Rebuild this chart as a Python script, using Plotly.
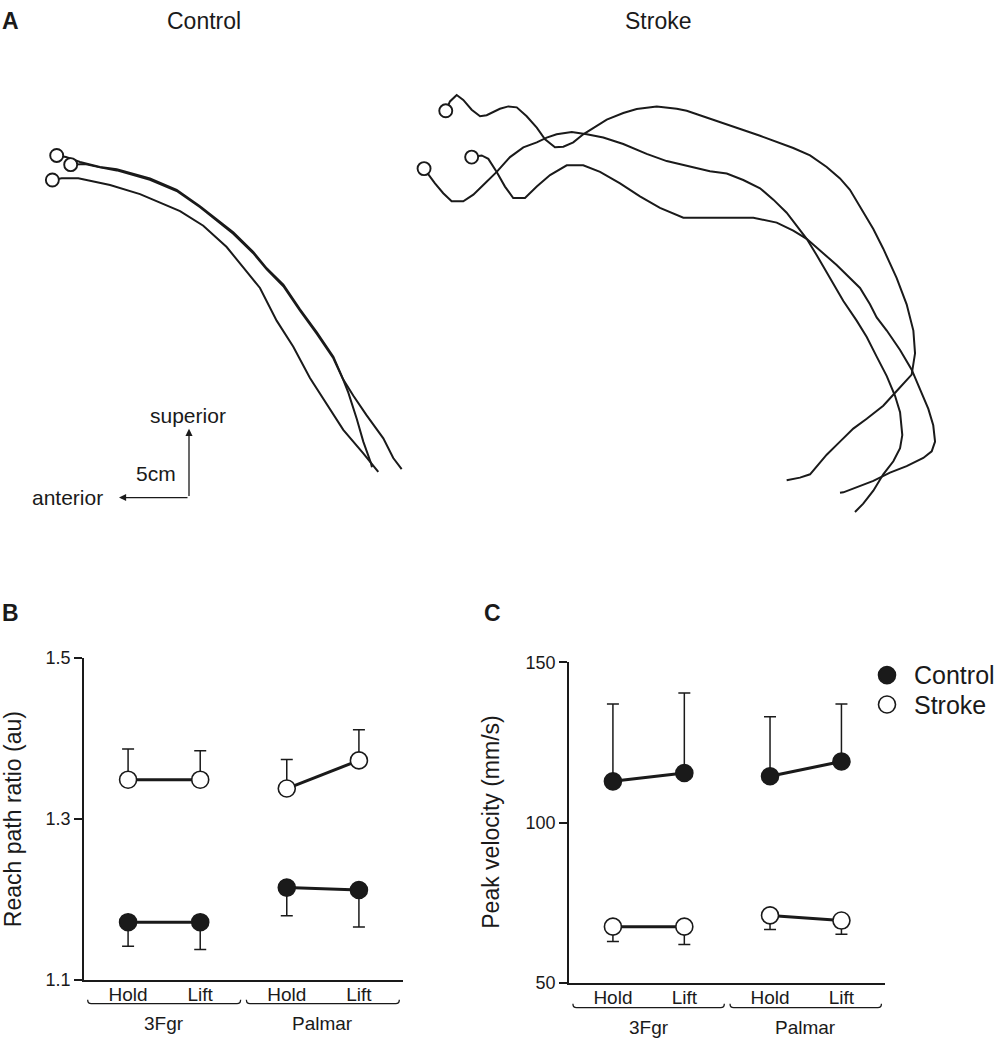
import plotly.graph_objects as go

# ---------------- Panel A data: hand trajectories (cm) ----------------
# origin = corner of the scale bar; x to the right, y = superior
ctrl1_x = [-9.45, -8.79, -8.14, -7.79, -6.36, -5.16, -2.79, -0.88, 0.79, 1.98, 3.16, 4.59, 5.55, 6.74,
           7.93, 9.12, 10.31, 11.02, 11.74, 12.69, 13.88, 14.59, 15.19]
ctrl1_y = [24.91, 24.79, 24.57, 24.43, 24.07, 23.91, 23.24, 22.41, 21.21, 20.26, 19.31, 17.88, 16.69, 15.50,
           13.71, 12.05, 10.26, 8.59, 7.41, 5.98, 4.31, 2.88, 2.07]
ctrl2_x = [-8.45, -7.93, -7.43, -6.36, -5.16, -2.79, -0.88, 0.79, 1.98, 3.16, 4.59, 5.55, 6.74, 7.93,
           9.12, 10.31, 11.02, 11.38, 11.98, 12.45, 13.00, 13.07]
ctrl2_y = [24.24, 24.29, 24.29, 24.04, 23.82, 23.14, 22.32, 21.14, 20.18, 19.21, 17.79, 16.61, 15.39, 13.61,
           11.93, 10.14, 8.57, 7.64, 5.74, 4.07, 2.50, 2.21]
ctrl3_x = [-9.76, -9.09, -7.91, -7.31, -5.64, -3.50, -2.07, -0.64, 1.02, 2.69, 4.12, 5.07, 6.26, 7.45,
           8.64, 9.84, 11.02, 12.45, 13.52]
ctrl3_y = [23.12, 23.24, 23.24, 23.12, 22.76, 22.09, 21.45, 20.86, 19.79, 18.24, 16.45, 15.26, 12.88, 10.98,
           8.71, 6.79, 4.93, 3.21, 1.86]

strk1_x = [18.34, 18.64, 19.12, 19.59, 20.19, 20.79, 21.26, 22.21, 22.81, 23.41, 24.12, 24.84, 25.43, 26.14,
           26.74, 27.45, 28.16, 28.88, 29.84, 31.02, 31.98, 33.41, 34.84, 35.55, 38.41, 40.79, 43.16, 44.36,
           45.55, 46.50, 47.21, 47.93, 48.88, 49.59, 50.55, 51.26, 51.74, 51.86, 51.62, 50.55, 49.59, 48.41,
           47.45, 46.50, 45.55, 44.36, 43.64, 42.69]
strk1_y = [28.16, 28.84, 29.31, 28.95, 28.24, 27.76, 27.84, 28.31, 28.48, 28.41, 27.76, 26.93, 26.09, 25.50,
           25.55, 25.86, 26.45, 26.93, 27.52, 28.00, 28.29, 28.48, 28.31, 28.16, 27.16, 26.34, 25.45, 24.91,
           24.07, 23.24, 22.41, 21.21, 19.55, 18.12, 15.98, 14.07, 12.16, 10.50, 8.95, 7.76, 6.69, 5.74,
           5.02, 4.07, 3.12, 1.69, 1.45, 1.26]
strk2_x = [20.19, 20.91, 21.38, 21.98, 22.57, 23.16, 24.00, 24.84, 25.79, 26.98, 28.16, 29.36, 30.79, 32.21,
           33.64, 35.31, 40.31, 41.98, 43.16, 44.12, 46.26, 47.93, 48.64, 49.12, 49.84, 50.79, 51.62, 52.21,
           52.81, 53.16, 53.29, 53.05, 52.45, 51.26, 50.07, 48.88, 47.69, 46.74, 46.50]
strk2_y = [24.79, 24.91, 24.66, 23.71, 22.64, 21.81, 21.81, 22.64, 23.48, 24.19, 24.19, 23.71, 22.88, 21.93,
           21.09, 20.38, 20.38, 20.02, 19.43, 18.84, 16.93, 15.26, 14.07, 13.12, 12.16, 10.74, 9.31, 7.88,
           6.45, 5.26, 4.07, 3.36, 2.88, 2.29, 1.81, 1.21, 0.74, 0.38, 0.34]
strk3_x = [16.79, 17.21, 17.57, 18.16, 18.76, 19.59, 20.31, 21.02, 21.98, 22.93, 23.88, 24.84, 25.55, 26.26,
           27.34, 28.41, 29.59, 31.02, 32.69, 34.12, 36.02, 37.21, 38.41, 39.59, 40.79, 41.74, 42.69, 43.41,
           44.12, 44.84, 45.79, 46.74, 47.69, 48.41, 49.12, 49.84, 50.43, 50.79, 50.95, 50.79, 50.31, 49.59,
           48.88, 48.16, 47.57]
strk3_y = [23.95, 23.36, 22.88, 22.16, 21.57, 21.57, 22.05, 22.76, 23.71, 24.79, 25.50, 25.86, 26.21, 26.45,
           26.62, 26.45, 26.21, 25.74, 25.02, 24.50, 24.07, 23.76, 23.59, 23.12, 22.52, 21.69, 20.74, 19.79,
           18.84, 17.64, 15.98, 14.31, 12.88, 11.69, 10.26, 8.84, 7.41, 6.21, 4.55, 3.59, 2.64, 1.69,
           0.50, -0.45, -1.05]
scale_cm = 5

# ---------------- Panels B & C data ----------------
conditions = ["Hold", "Lift", "Hold", "Lift"]
grips = ["3Fgr", "Palmar"]
series_names = ["Control", "Stroke"]
# reach path ratio (au)
ratio_control = [1.172, 1.172, 1.215, 1.212]
ratio_control_err = [0.030, 0.034, 0.035, 0.046]
ratio_stroke = [1.349, 1.349, 1.338, 1.373]
ratio_stroke_err = [0.038, 0.036, 0.036, 0.038]
# peak velocity (mm/s)
vel_control = [112.9, 115.5, 114.5, 119.1]
vel_control_err = [24.1, 24.9, 18.5, 17.9]
vel_stroke = [67.6, 67.6, 71.1, 69.5]
vel_stroke_err = [4.6, 5.6, 4.4, 4.3]
ratio_ticks = [1.1, 1.3, 1.5]
vel_ticks = [50, 100, 150]

# ---------------- layout constants ----------------
W, H = 997, 1050
FONT = "Liberation Sans, Arial, Helvetica, sans-serif"
INK = "#1a1a1a"
PXCM = 14.0
cx_pos = [1, 2, 3.2, 4.2]          # category positions on x axes
group_centers = [1.5, 3.7]


def xp(px):
    return px / W


def yp(py):
    return 1 - py / H


fig = go.Figure()

# Panel A trajectories
trajs = [(ctrl1_x, ctrl1_y), (ctrl2_x, ctrl2_y), (ctrl3_x, ctrl3_y),
         (strk1_x, strk1_y), (strk2_x, strk2_y), (strk3_x, strk3_y)]
for tx, ty in trajs:
    fig.add_trace(go.Scatter(x=tx, y=ty, mode="lines", xaxis="x", yaxis="y",
                             line=dict(color=INK, width=2), showlegend=False, hoverinfo="skip"))
fig.add_trace(go.Scatter(x=[t[0][0] for t in trajs], y=[t[1][0] for t in trajs], mode="markers",
                         xaxis="x", yaxis="y", showlegend=False, hoverinfo="skip",
                         marker=dict(size=13, color="white", line=dict(color=INK, width=1.9))))


def add_group(xa, ya, vals, errs, filled, up):
    for g in range(2):
        sl = slice(2 * g, 2 * g + 2)
        e = errs[sl]
        z = [0, 0]
        fig.add_trace(go.Scatter(
            x=cx_pos[sl], y=vals[sl], mode="lines+markers", xaxis=xa, yaxis=ya, showlegend=False,
            line=dict(color=INK, width=3),
            marker=dict(size=17, color=INK if filled else "white", line=dict(color=INK, width=1.6)),
            error_y=dict(type="data", symmetric=False, array=e if up else z, arrayminus=z if up else e,
                         color=INK, thickness=1.5, width=6)))


add_group("x2", "y2", ratio_stroke, ratio_stroke_err, False, True)
add_group("x2", "y2", ratio_control, ratio_control_err, True, False)
add_group("x3", "y3", vel_stroke, vel_stroke_err, False, False)
add_group("x3", "y3", vel_control, vel_control_err, True, True)

ax_common = dict(showgrid=False, zeroline=False, showline=True, linecolor=INK, linewidth=1.5,
                 fixedrange=True)
xcat = dict(ax_common, ticks="", tickvals=cx_pos, ticktext=conditions, ticklabelstandoff=-4,
            tickfont=dict(family=FONT, size=19, color=INK))
ycat = dict(ax_common, ticks="outside", ticklen=8, tickwidth=1.5, tickcolor=INK,
            tickfont=dict(family=FONT, size=18, color=INK))

B_TOP, B_BOT = 660.7, 989
C_TOP, C_BOT = 665, 992

fig.update_layout(
    width=W, height=H, autosize=False, margin=dict(l=0, r=0, t=0, b=0),
    paper_bgcolor="white", plot_bgcolor="rgba(0,0,0,0)", showlegend=False,
    font=dict(family=FONT, color=INK),
    xaxis=dict(domain=[0, 1], range=[-189 / PXCM, (W - 189) / PXCM], visible=False, fixedrange=True),
    yaxis=dict(domain=[yp(540), 1], range=[(497 - 540) / PXCM, 497 / PXCM], visible=False, fixedrange=True),
    xaxis2=dict(xcat, domain=[xp(84), xp(403)], range=[0.389, 4.811], anchor="y2"),
    yaxis2=dict(ycat, domain=[yp(B_BOT), yp(B_TOP)], range=[1.1, 1.5], tickvals=ratio_ticks,
                ticktext=[f"{v:.1f}" for v in ratio_ticks], anchor="x2"),
    xaxis3=dict(xcat, domain=[xp(569), xp(885)], range=[0.385, 4.81], anchor="y3"),
    yaxis3=dict(ycat, domain=[yp(C_BOT), yp(C_TOP)], range=[50, 150], tickvals=vel_ticks, anchor="x3"),
)

ann = []


def txt(x, y, s, size, bold=False, xanchor="center", angle=0, xref="paper", yref="paper"):
    ann.append(dict(x=x, y=y, xref=xref, yref=yref, text=f"<b>{s}</b>" if bold else s, showarrow=False,
                    xanchor=xanchor, yanchor="middle", textangle=angle,
                    font=dict(family=FONT, size=size, color=INK)))


txt(xp(0), yp(11), "A", 23, bold=True, xanchor="left")
txt(xp(204), yp(11), "Control", 23)
txt(xp(658), yp(11), "Stroke", 23)
txt(xp(188), yp(413), "superior", 21)
txt(xp(156), yp(472), "5cm", 21)
txt(xp(67), yp(497), "anterior", 21)
txt(xp(0), yp(615), "B", 23, bold=True, xanchor="left")
txt(xp(482), yp(615), "C", 23, bold=True, xanchor="left")
txt(xp(13), yp((B_TOP + B_BOT) / 2), "Reach path ratio (au)", 23, angle=-90)
txt(xp(491), yp((C_TOP + C_BOT) / 2), "Peak velocity (mm/s)", 23, angle=-90)
for c, g in zip(group_centers, grips):
    txt(c, yp(1033), g, 19, xref="x2")
    txt(c, yp(1037), g, 19, xref="x3")

# legend (panel C)
shapes = []
for i, (name, fill) in enumerate(zip(series_names, [INK, "white"])):
    ly = yp(678 + 30 * i)
    shapes.append(dict(type="circle", xref="paper", yref="paper", xsizemode="pixel", ysizemode="pixel",
                       xanchor=xp(887), yanchor=ly, x0=-8.5, x1=8.5, y0=-8.5, y1=8.5,
                       fillcolor=fill, line=dict(color=INK, width=1.6)))
    txt(xp(912), ly, name, 25, xanchor="left")

# scale bar arrows (5 cm)
for hx, hy in [(0, scale_cm), (-scale_cm, 0)]:
    ann.append(dict(x=hx, y=hy, ax=0, ay=0, xref="x", yref="y", axref="x", ayref="y", text="",
                    showarrow=True, arrowhead=2, arrowsize=1.1, arrowwidth=1.3, arrowcolor=INK))
fig.update_layout(annotations=ann)

# grip brackets
for xref, ybr in [("x2", yp(1013)), ("x3", yp(1017))]:
    for c in group_centers:
        x0, x1 = c - 1.06, c + 1.06
        e, d = 0.05, 4 / H
        path = (f"M {x0},{ybr + d} Q {x0},{ybr} {x0 + e},{ybr} L {x1 - e},{ybr} "
                f"Q {x1},{ybr} {x1},{ybr + d}")
        shapes.append(dict(type="path", path=path, xref=xref, yref="paper",
                           line=dict(color=INK, width=1.3)))
fig.update_layout(shapes=shapes)

fig.write_html("out.html", config={"displayModeBar": False},
               post_script="document.body.style.margin='0';document.body.style.overflow='hidden';")
